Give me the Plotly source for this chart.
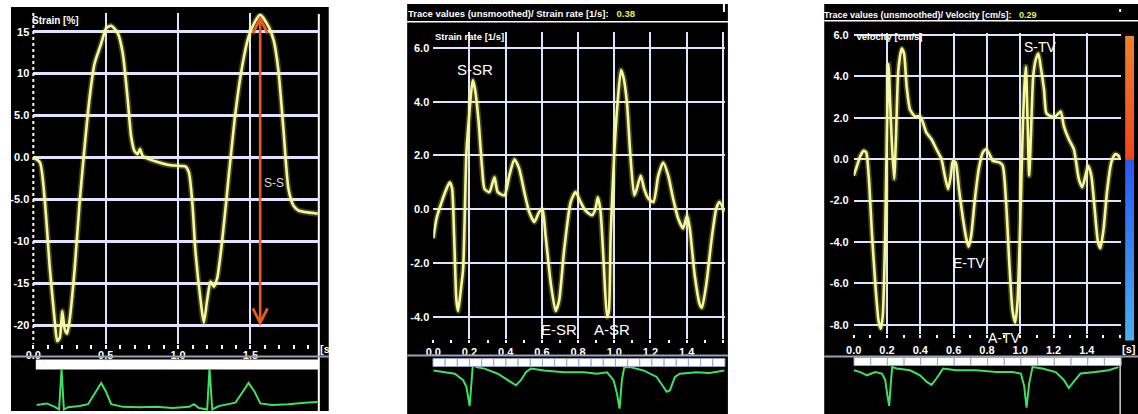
import plotly.graph_objects as go

W, H = 1138, 414

# ---------------- data ----------------
strain_t = [0, 0.046, 0.08, 0.114, 0.148, 0.165, 0.183, 0.2, 0.217, 0.233, 0.25, 0.286, 0.32, 0.355, 0.39,
            0.423, 0.469, 0.503, 0.538, 0.584, 0.618, 0.652, 0.675, 0.698, 0.72, 0.737, 0.755, 0.8, 0.87, 0.94,
            1.007, 1.05, 1.075, 1.098, 1.12, 1.156, 1.178, 1.2, 1.224, 1.247, 1.27, 1.304, 1.35, 1.396, 1.442,
            1.487, 1.525, 1.567, 1.625, 1.66, 1.693, 1.728, 1.762, 1.796, 1.83, 1.876, 1.965]
strain_v = [0, -0.6, -5.3, -13.2, -19.5, -21.9, -21.5, -18.3, -20.5, -21, -19.5, -13.2, -5.3, 1.4, 7.3,
            11.2, 13.6, 15.4, 15.7, 14.8, 12.4, 6.9, 2.6, 0.8, 0.4, 1.0, 0.2, -0.2, -0.6, -0.9,
            -1.0, -1.06, -1.8, -5.3, -11.2, -17.1, -19.7, -17.1, -14.8, -15.4, -14.4, -10, -2.2, 5.3, 10.8,
            14.4, 16.0, 17.0, 15.6, 14, 10.4, 3.3, -3.7, -5.7, -6.3, -6.5, -6.7]

sr_t = [0, 0.018, 0.046, 0.073, 0.091, 0.104, 0.115, 0.128, 0.137, 0.152, 0.165, 0.183, 0.196, 0.21, 0.219,
        0.232, 0.25, 0.27, 0.283, 0.31, 0.338, 0.356, 0.393, 0.42, 0.448, 0.475, 0.503, 0.53, 0.558, 0.585,
        0.603, 0.62, 0.65, 0.676, 0.695, 0.722, 0.759, 0.786, 0.814, 0.84, 0.877, 0.896, 0.909, 0.923, 0.941,
        0.96, 0.97, 0.98, 1.0, 1.018, 1.037, 1.05, 1.07, 1.088, 1.11, 1.124, 1.146, 1.165, 1.188, 1.216,
        1.243, 1.27, 1.298, 1.325, 1.353, 1.38, 1.402, 1.417, 1.444, 1.472, 1.484, 1.508, 1.536, 1.563, 1.581,
        1.609]
sr_v = [-1.08, -0.34, 0.27, 0.76, 1.0, 0.76, -0.96, -3.4, -3.78, -3.0, -2.2, 2.1, 3.3, 4.4, 4.8,
        4.4, 3.3, 1.5, 0.76, 0.64, 1.19, 0.64, 0.52, 1.25, 1.86, 1.5, 0.64, -0.1, -0.47, -0.1,
        0, -0.96, -2.8, -3.78, -3.4, -1.57, 0.27, 0.64, 0.27, -0.04, -0.22, 0.02, 0.45, 0, -1.94,
        -4.0, -3.78, -0.96, 2.1, 3.95, 5.18, 4.93, 3.95, 2.1, 0.52, 0.76, 1.25, 0.76, 0.4, 0.27,
        1.25, 1.74, 1.25, 0.4, -0.34, -0.71, -0.22, -0.71, -2.43, -3.53, -3.66, -2.8, -1.2, 0.02, 0.27,
        -0.1]

tv_t = [0, 0.02, 0.04, 0.06, 0.075, 0.09, 0.11, 0.13, 0.149, 0.163, 0.175, 0.189, 0.199, 0.209, 0.219,
        0.229, 0.243, 0.254, 0.268, 0.288, 0.302, 0.318, 0.338, 0.368, 0.398, 0.413, 0.437, 0.467, 0.497, 0.527,
        0.547, 0.567, 0.583, 0.596, 0.612, 0.632, 0.656, 0.676, 0.69, 0.706, 0.726, 0.751, 0.775, 0.795, 0.815,
        0.835, 0.875, 0.895, 0.915, 0.934, 0.954, 0.97, 0.984, 0.998, 1.014, 1.024, 1.034, 1.044, 1.054, 1.064,
        1.078, 1.093, 1.109, 1.123, 1.143, 1.157, 1.183, 1.213, 1.243, 1.262, 1.292, 1.322, 1.352, 1.372, 1.392,
        1.408, 1.427, 1.447, 1.467, 1.481, 1.501, 1.521, 1.547, 1.57, 1.59, 1.603]
tv_v = [-0.8, -0.32, 0.16, 0.4, 0.32, -0.8, -3.67, -6.06, -7.8, -8.2, -7.5, -3.67, 1.1, 4.6, 2.7,
        0.8, -0.96, 1.1, 4.3, 5.34, 5.1, 3.5, 2.4, 2.07, 2.07, 1.83, 1.28, 0.96, 0.48, 0,
        -0.8, -1.44, -0.8, -0.08, -0.16, -1.44, -2.87, -3.83, -4.23, -3.67, -2.07, -0.48, 0.32, 0.48, 0.24,
        -0.08, -0.16, -0.32, -2.07, -4.94, -7.34, -7.9, -6.86, -3.67, 1.1, 3.35, 4.47, 1.9, -0.8, 1.1,
        4.0, 4.8, 5.1, 4.47, 3.35, 2.23, 2.07, 2.07, 2.3, 1.6, 0.96, 0.48, -0.96, -1.36, -0.8,
        -0.32, -0.8, -2.4, -4.0, -4.3, -3.35, -1.6, -0.16, 0.24, 0.16, 0]

ecg1_t = [0.023, 0.092, 0.149, 0.178, 0.195, 0.211, 0.24, 0.32, 0.378, 0.423, 0.469, 0.503, 0.538, 0.618,
          0.732, 0.847, 0.961, 1.076, 1.11, 1.144, 1.201, 1.217, 1.236, 1.281, 1.396, 1.446, 1.487, 1.529,
          1.568, 1.648, 1.762, 1.876, 1.965]
ecg1_a = [0.03, 0.07, -0.02, -0.09, 0.98, -0.09, -0.03, 0.0, 0.05, 0.33, 0.61, 0.37, 0.05, -0.02,
          -0.03, -0.02, -0.05, -0.02, 0.05, -0.05, -0.09, 1.0, -0.09, 0.0, 0.09, 0.37, 0.61, 0.37,
          0.07, 0.03, 0.05, 0.09, 0.11]

ecg2_t = [0, 0.064, 0.119, 0.165, 0.183, 0.201, 0.212, 0.219, 0.238, 0.283, 0.356, 0.411, 0.457, 0.484,
          0.512, 0.539, 0.612, 0.722, 0.832, 0.905, 0.96, 0.996, 1.015, 1.029, 1.042, 1.055, 1.088, 1.161,
          1.234, 1.271, 1.289, 1.307, 1.335, 1.362, 1.453, 1.527, 1.581, 1.609]
ecg2_a = [0, -0.05, -0.09, -0.27, -0.45, -0.98, -0.36, 0.18, 0.09, 0.05, -0.09, -0.27, -0.41, -0.27,
          -0.05, 0.05, 0, -0.05, -0.05, -0.09, -0.05, -0.27, -0.64, -1.05, -0.27, 0.09, 0.09, 0,
          -0.18, -0.45, -0.59, -0.55, -0.18, -0.09, -0.05, -0.07, -0.02, 0.0]

ecg3_t = [0, 0.04, 0.08, 0.129, 0.169, 0.189, 0.203, 0.213, 0.223, 0.231, 0.258, 0.338, 0.398, 0.437,
          0.467, 0.497, 0.537, 0.616, 0.736, 0.855, 0.954, 1.004, 1.024, 1.038, 1.054, 1.074, 1.133, 1.213,
          1.262, 1.292, 1.322, 1.362, 1.451, 1.531, 1.59]
ecg3_a = [0, -0.05, -0.14, -0.05, -0.09, -0.27, -0.73, -1.0, -0.36, 0.09, 0.05, 0, -0.14, -0.32,
          -0.41, -0.23, 0.05, 0, 0, -0.05, -0.05, -0.09, -0.45, -1.05, -0.36, 0.09, 0.05, -0.05,
          -0.27, -0.5, -0.32, -0.09, -0.05, 0, 0.09]

strain_yticks = [-20, -15, -10, -5, 0, 5, 10, 15]
strain_ytext = ["-20", "-15", "-10", "-5.0", "0.0", "5.0", "10", "15"]
strain_xticks = [0, 0.5, 1.0, 1.5]
strain_xtext = ["0.0", "0.5", "1.0", "1.5"]

sr_yticks = [-4, -2, 0, 2, 4, 6]
sr_ytext = ["-4.0", "-2.0", "0.0", "2.0", "4.0", "6.0"]
tv_yticks = [-8, -6, -4, -2, 0, 2, 4, 6]
tv_ytext = ["-8.0", "-6.0", "-4.0", "-2.0", "0.0", "2.0", "4.0", "6.0"]
time_xticks = [0, 0.2, 0.4, 0.6, 0.8, 1.0, 1.2, 1.4, 1.6]
time_xtext = ["0.0", "0.2", "0.4", "0.6", "0.8", "1.0", "1.2", "1.4", ""]

ss_label = "S-S"
ss_time, ss_top, ss_bottom = 1.567, 17.1, -20.1
ss_label_t, ss_label_v = 1.665, -3.0

sr_labels = ["S-SR", "E-SR", "A-SR"]
sr_label_t = [0.23, 0.695, 0.987]
sr_label_v = [5.2, -4.45, -4.45]

tv_labels = ["S-TV", "E-TV", "A-TV"]
tv_label_t = [1.123, 0.696, 0.905]
tv_label_v = [5.42, -5.0, -8.4]
tv_label_shift = [0, 0, -5]

scale_levels = [-8.77, -0.02, 0.02, 5.97]

sr_title = "Trace values (unsmoothed)/ Strain rate [1/s]:"
sr_value = "0.38"
tv_title = "Trace values (unsmoothed)/ Velocity [cm/s]:"
tv_value = "0.29"

# ---------------- styling helpers ----------------
NARROW = "Liberation Sans Narrow, Arial Narrow, Liberation Sans, Arial"
SANS = "Liberation Sans, Arial"
GRID = "#dfe3ff"
YEL = "#f7f7a0"
GLOW = "rgba(235,235,90,0.28)"
GREEN = "#3fe060"
VALCOL = "#e6f04a"


def fx(p):
    return p / W


def fy(p):
    return 1 - p / H


def xdom(a, b):
    return [fx(a), fx(b)]


def ydom(top, bottom):
    return [fy(bottom), fy(top)]


tickfont = dict(family=NARROW, size=11, color="white", weight="bold")

fig = go.Figure()


def curve(x, y, xa, ya):
    fig.add_trace(go.Scatter(x=x, y=y, xaxis=xa, yaxis=ya, mode="lines",
                             line=dict(color=GLOW, width=6, shape="spline", smoothing=0.6),
                             hoverinfo="skip", showlegend=False))
    fig.add_trace(go.Scatter(x=x, y=y, xaxis=xa, yaxis=ya, mode="lines",
                             line=dict(color=YEL, width=2.6, shape="spline", smoothing=0.6),
                             hoverinfo="skip", showlegend=False))


def ecg(x, y, xa, ya):
    fig.add_trace(go.Scatter(x=x, y=y, xaxis=xa, yaxis=ya, mode="lines",
                             line=dict(color=GREEN, width=2),
                             hoverinfo="skip", showlegend=False))


curve(strain_t, strain_v, "x", "y")
ecg(ecg1_t, ecg1_a, "x2", "y2")
curve(sr_t, sr_v, "x3", "y3")
ecg(ecg2_t, ecg2_a, "x4", "y4")
curve(tv_t, tv_v, "x5", "y5")
ecg(ecg3_t, ecg3_a, "x6", "y6")

# colour scale bar on the velocity panel
z0 = -scale_levels[0] / (scale_levels[-1] - scale_levels[0])
fig.add_trace(go.Heatmap(x=[0, 1], y=scale_levels, z=[[v, v] for v in scale_levels],
                         xaxis="x7", yaxis="y7", zsmooth="best", showscale=False, hoverinfo="skip",
                         zmin=scale_levels[0], zmax=scale_levels[-1],
                         colorscale=[[0, "#48b0f0"], [z0 - 0.001, "#2a58f0"], [z0 + 0.001, "#ee461c"],
                                     [1, "#f08030"]]))


def main_axes(xdomain, xrange, ydomain, yrange, xt, xtt, yt, ytt, ygw, xstand, ystand, minor_len):
    xa = dict(domain=xdomain, range=xrange, tickmode="array", tickvals=xt, ticktext=xtt,
              showgrid=True, gridcolor=GRID, gridwidth=2, zeroline=False, showline=False,
              ticks="", tickfont=tickfont, ticklabelstandoff=xstand, fixedrange=True,
              minor=dict(tickmode="linear", tick0=0, dtick=0.1, ticks="outside", ticklen=minor_len,
                         tickwidth=2, tickcolor="white", showgrid=False))
    ya = dict(domain=ydomain, range=yrange, tickmode="array", tickvals=yt, ticktext=ytt,
              showgrid=True, gridcolor=GRID, gridwidth=ygw, zeroline=False, showline=False,
              ticks="", tickfont=tickfont, ticklabelstandoff=ystand, fixedrange=True)
    return xa, ya


def hidden(domain, rng):
    return dict(domain=domain, range=rng, visible=False, fixedrange=True)


P1X = xdom(25.5, 313)
P1R = [0, 1.972]
P2X = xdom(428.3, 721.6)
P2R = [0, 1.609]
P3X = xdom(851.7, 1120.5)
P3R = [0, 1.603]

x1, y1 = main_axes(P1X, P1R, ydom(9, 343), [-22.2, 17.24], strain_xticks, strain_xtext,
                   strain_yticks, strain_ytext, 3, 3, 3, 4)
x3, y3 = main_axes(P2X, P2R, ydom(28, 338), [-4.81, 6.6], time_xticks, time_xtext,
                   sr_yticks, sr_ytext, 2, 5, 3, 3)
x5, y5 = main_axes(P3X, P3R, ydom(29, 333), [-8.44, 6.11], time_xticks, time_xtext,
                   tv_yticks, tv_ytext, 2, 8, 4, 3)
x1["tickfont"] = dict(tickfont, size=11)
y1["tickfont"] = dict(tickfont, size=11)
x1["anchor"] = "y"
y1["anchor"] = "x"
x3["anchor"] = "y3"
y3["anchor"] = "x3"
x5["anchor"] = "y5"
y5["anchor"] = "x5"

fig.update_layout(
    width=W, height=H, margin=dict(l=0, r=0, t=0, b=0),
    paper_bgcolor="white", plot_bgcolor="rgba(0,0,0,0)", showlegend=False, hovermode=False,
    xaxis=x1, yaxis=y1,
    xaxis2=dict(hidden(P1X, P1R), anchor="y2"), yaxis2=dict(hidden(ydom(369, 411), [-0.13, 0.965]), anchor="x2"),
    xaxis3=x3, yaxis3=y3,
    xaxis4=dict(hidden(P2X, P2R), anchor="y4"), yaxis4=dict(hidden(ydom(366, 412), [-1.145, 0.109]), anchor="x4"),
    xaxis5=x5, yaxis5=y5,
    xaxis6=dict(hidden(P3X, P3R), anchor="y6"), yaxis6=dict(hidden(ydom(365, 412), [-1.172, 0.136]), anchor="x6"),
    xaxis7=dict(hidden(xdom(1125, 1134), [0, 1]), anchor="y7"),
    yaxis7=dict(hidden(ydom(32, 340), [scale_levels[0], scale_levels[-1]]), anchor="x7"),
)

shapes = []


def rect(x0, y0, x1_, y1_, color, layer="below", line=None):
    shapes.append(dict(type="rect", xref="paper", yref="paper", x0=fx(x0), x1=fx(x1_), y0=fy(y1_), y1=fy(y0),
                       fillcolor=color, line=line or dict(width=0), layer=layer))


def hline(x0, x1_, y, color, width, layer="above", dash="solid"):
    shapes.append(dict(type="line", xref="paper", yref="paper", x0=fx(x0), x1=fx(x1_), y0=fy(y), y1=fy(y),
                       line=dict(color=color, width=width, dash=dash), layer=layer))


def vline(x, y0, y1_, color, width, layer="above", dash="solid"):
    shapes.append(dict(type="line", xref="paper", yref="paper", x0=fx(x), x1=fx(x), y0=fy(y0), y1=fy(y1_),
                       line=dict(color=color, width=width, dash=dash), layer=layer))


# black monitor panels
rect(3, 3, 323, 411, "black")
rect(402, 0, 725, 414, "black")
rect(822, 0, 1138, 414, "black")

# panel 1 extras
vline(313, 10, 411, "white", 2, layer="between")
vline(25.5, 9, 343, "white", 2, layer="between", dash="dot")
hline(3, 323, 356, "#9aa0b0", 2)
rect(28, 359, 313, 369, "white", layer="above")

# panel 2 extras
hline(402, 725, 18, "white", 1.5)
vline(721, 0, 8, "white", 2)
hline(402, 725, 355, "#9aa0b0", 2)
n2 = 24
seg2 = (722 - 428) / n2
for i in range(n2):
    rect(428 + i * seg2, 358, 428 + (i + 1) * seg2, 366, "white", layer="above",
         line=dict(color="#9aa6c8", width=1))

# panel 3 extras
hline(822, 1138, 17, "white", 1.5)
hline(822, 1138, 356, "#9aa0b0", 2)
n3 = 16
seg3 = (1121 - 852) / n3
for i in range(n3):
    rect(852 + i * seg3, 357, 852 + (i + 1) * seg3, 365, "white", layer="above",
         line=dict(color="#9aa6c8", width=1))
vline(1120, 365, 414, "white", 1.2)
rect(1119, 5, 1121, 8, "white", layer="above")

fig.update_layout(shapes=shapes)

ann = []


def ptext(x, y, text, size=10, color="white", family=NARROW, weight="bold", xanchor="left"):
    ann.append(dict(xref="paper", yref="paper", x=fx(x), y=fy(y), text=text, showarrow=False,
                    xanchor=xanchor, yanchor="middle",
                    font=dict(family=family, size=size, color=color, weight=weight)))


def title_text(title, value):
    return f"{title}&nbsp;&nbsp;&nbsp;<span style='color:{VALCOL}'>{value}</span>"


ptext(22, 17, "Strain [%]", size=10)
ptext(312, 348, "[s]", size=11)
ptext(401, 10, title_text(sr_title, sr_value), size=9.5)
ptext(428, 33, "Strain rate [1/s]", size=9.5)
ptext(820, 11, title_text(tv_title, tv_value), size=9)
ptext(852, 33, "Velocity [cm/s]", size=9.5)
ptext(1120, 348, "[s]", size=11)

# S-S double arrow
ann.append(dict(xref="x", yref="y", axref="x", ayref="y", x=ss_time, y=ss_bottom, ax=ss_time, ay=ss_top,
                text="", showarrow=True, arrowside="end+start", arrowhead=5, startarrowhead=5,
                arrowsize=1.1, startarrowsize=1.1, arrowwidth=2.6, arrowcolor="#ea5a1c"))
ann.append(dict(xref="x", yref="y", x=ss_label_t, y=ss_label_v, text=ss_label, showarrow=False,
                font=dict(family=SANS, size=12, color="#dcdcdc")))

for lab, t, v in zip(sr_labels, sr_label_t, sr_label_v):
    ann.append(dict(xref="x3", yref="y3", x=t, y=v, text=lab, showarrow=False,
                    font=dict(family=SANS, size=15, color="white")))
for lab, t, v, s in zip(tv_labels, tv_label_t, tv_label_v, tv_label_shift):
    ann.append(dict(xref="x5", yref="y5", x=t, y=v, text=lab, showarrow=False, yshift=s,
                    font=dict(family=SANS, size=14, color="white")))

fig.update_layout(annotations=ann)

fig.write_html("out.html", config={"displayModeBar": False, "staticPlot": True},
               post_script="document.body.style.margin='0px';")
